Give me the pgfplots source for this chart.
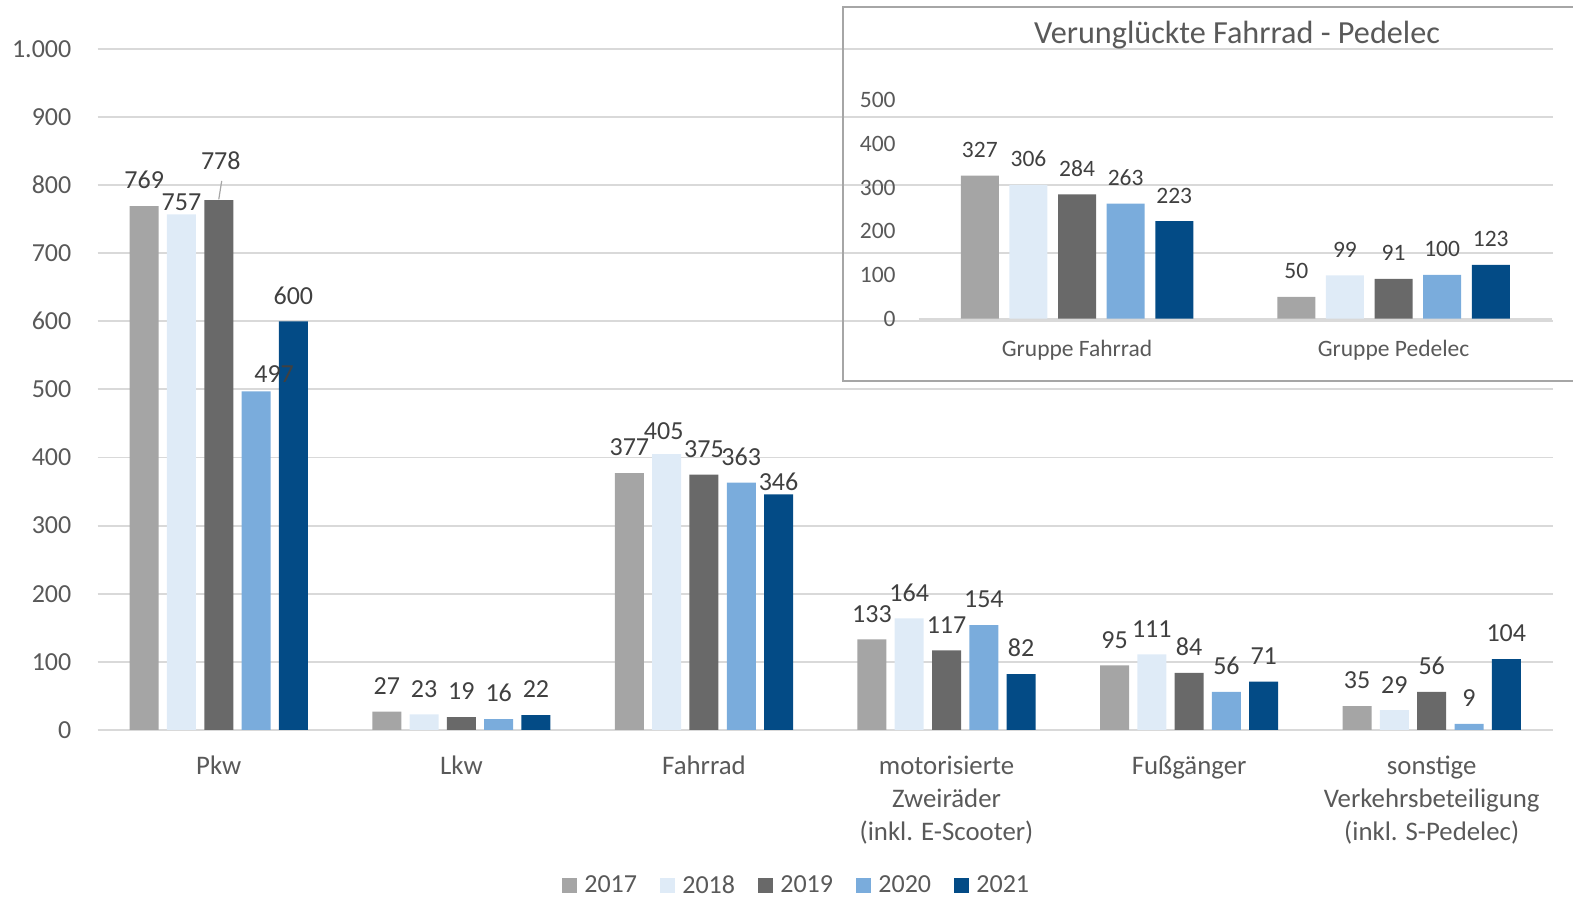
\documentclass[border=0pt]{standalone}
\usepackage{pgfplots}
\pgfplotsset{compat=1.18}
\usepackage{pgfplotstable}
\usepackage{fontspec}
\setmainfont{Carlito}
\definecolor{c17}{HTML}{A5A5A5}
\definecolor{c18}{HTML}{DFEBF7}
\definecolor{c19}{HTML}{696969}
\definecolor{c20}{HTML}{7AACDC}
\definecolor{c21}{HTML}{034B86}
\definecolor{gridc}{HTML}{D9D9D9}
\definecolor{tickc}{HTML}{595959}
\definecolor{labc}{HTML}{404040}
\definecolor{framec}{HTML}{A6A6A6}
\newcommand\mainfs{\fontsize{13}{16.5}\selectfont}
\newcommand\catfs{\fontsize{13.4}{16.5}\selectfont}
\newcommand\insfs{\fontsize{11.75}{14}\selectfont}
\newcommand\fs{\rule{0pt}{10pt}}

\pgfplotstableread{
x y dx dy
0 769 0 0
1 27 0 0
2 377 0 0
3 133 0 0
4 95 0 0
5 35 0 0
}\ta
\pgfplotstableread{
x y dx dy
0 757 0 -6.5
1 23 0 0
2 405 -1.5 -1.5
3 164 0 0
4 111 0 0
5 29 0 0
}\tb
\pgfplotstableread{
x y dx dy
0 778 1 6.65
1 19 0 0
2 375 0 0
3 117 0 0
4 84 0 0
5 56 0 0
}\tc
\pgfplotstableread{
x y dx dy
0 497 9 -4
1 16 0 0
2 363 0 0
3 154 0 0
4 56 0 0
5 9 0 0
}\td
\pgfplotstableread{
x y dx dy
0 600 0 0
1 22 0 0
2 346 0 -6.5
3 82 0 0
4 71 0 0
5 104 0 0
}\te

\pgfplotstableread{
x y
0 327
1 50
}\ia
\pgfplotstableread{
x y
0 306
1 99
}\ib
\pgfplotstableread{
x y
0 284
1 91
}\ic
\pgfplotstableread{
x y
0 263
1 100
}\id
\pgfplotstableread{
x y
0 223
1 123
}\ie

\begin{document}
\begin{tikzpicture}
\useasboundingbox (0,0) rectangle (786.5pt,448.5pt);
\begin{axis}[
  at={(48.75pt,83.5pt)}, anchor=south west,
  scale only axis, width=727.75pt, height=340.6pt,
  ybar=4.15pt, bar width=14.5pt,
  xmin=-0.5, xmax=5.5, ymin=0, ymax=1000,
  clip=false,
  xtick={0,...,5},
  xticklabels={\fs Pkw, \fs Lkw, \fs Fahrrad, {\fs motorisierte\\Zweiräder\\(inkl. E-Scooter)}, \fs Fußgänger, {\fs sonstige\\Verkehrsbeteiligung\\(inkl. S-Pedelec)}},
  ytick={0,100,...,1000},
  ymajorgrids, grid style={draw=gridc, line width=0.9pt},
  axis line style={draw=none},
  major tick length=0pt,
  /pgf/number format/assume math mode=true,
  /pgf/number format/1000 sep={.},
  tick label style={font=\mainfs, text=tickc},
  yticklabel style={anchor=east, inner sep=0pt, xshift=-12.9pt},
  xticklabel style={font=\catfs, anchor=north, inner sep=0pt, align=center, yshift=-12pt},
  nodes near coords,
  visualization depends on={\thisrow{dx} \as \dx},
  visualization depends on={\thisrow{dy} \as \dy},
  nodes near coords style={font=\mainfs, text=labc, anchor=base, inner sep=0pt, xshift={\dx*1pt}, yshift={(8.6+\dy)*1pt}},
  legend columns=5,
  legend image code/.code={\fill[#1] (0pt,-3.75pt) rectangle (7.5pt,3.75pt);},
  legend style={at={(0.3191,-0.2285)}, anchor=west, draw=none, fill=none, inner sep=0pt, font=\mainfs, text=tickc, nodes={inner sep=0pt}, /tikz/every odd column/.append style={column sep=3.5pt}, /tikz/every even column/.append style={column sep=11.65pt}},
]
\addplot[fill=c17, draw=none] table[x=x,y=y] {\ta};
\addplot[fill=c18, draw=none] table[x=x,y=y] {\tb};
\addplot[fill=c19, draw=none] table[x=x,y=y] {\tc};
\addplot[fill=c20, draw=none] table[x=x,y=y] {\td};
\addplot[fill=c21, draw=none] table[x=x,y=y] {\te};
\legend{2017,2018,2019,2020,2021}
\draw[framec, line width=0.6pt] (axis cs:0.012,806) -- (axis cs:0,779);
\end{axis}

\begin{axis}[
  at={(459.4pt,289.15pt)}, anchor=south west,
  scale only axis, width=316.5pt, height=109.35pt,
  ybar=5.3pt, bar width=19pt,
  xmin=-0.5, xmax=1.5, ymin=0, ymax=500,
  clip=false,
  xtick={0,1}, xticklabels={Gruppe Fahrrad, Gruppe Pedelec},
  ytick={0,100,...,500},
  axis x line*=bottom, axis y line*=left,
  y axis line style={draw=none},
  x axis line style={draw=gridc, line width=1pt},
  major tick length=0pt,
  /pgf/number format/assume math mode=true,
  tick label style={font=\insfs, text=tickc},
  yticklabel style={anchor=east, inner sep=0pt, xshift=-11.4pt},
  xticklabel style={anchor=base, inner sep=0pt, yshift=-19pt},
  nodes near coords,
  nodes near coords style={font=\insfs, text=labc, anchor=base, inner sep=0pt, yshift=9pt},
]
\addplot[fill=c17, draw=none] table[x=x,y=y] {\ia};
\addplot[fill=c18, draw=none] table[x=x,y=y] {\ib};
\addplot[fill=c19, draw=none] table[x=x,y=y] {\ic};
\addplot[fill=c20, draw=none] table[x=x,y=y] {\id};
\addplot[fill=c21, draw=none] table[x=x,y=y] {\ie};
\end{axis}

\node[anchor=base, font=\fontsize{16.1}{19}\selectfont, text=tickc] at (618.5pt,426.6pt) {Verunglückte Fahrrad - Pedelec};
\draw[framec, line width=1pt] (792pt,258.15pt) -- (421.35pt,258.15pt) -- (421.35pt,445pt) -- (792pt,445pt);
\end{tikzpicture}
\end{document}
